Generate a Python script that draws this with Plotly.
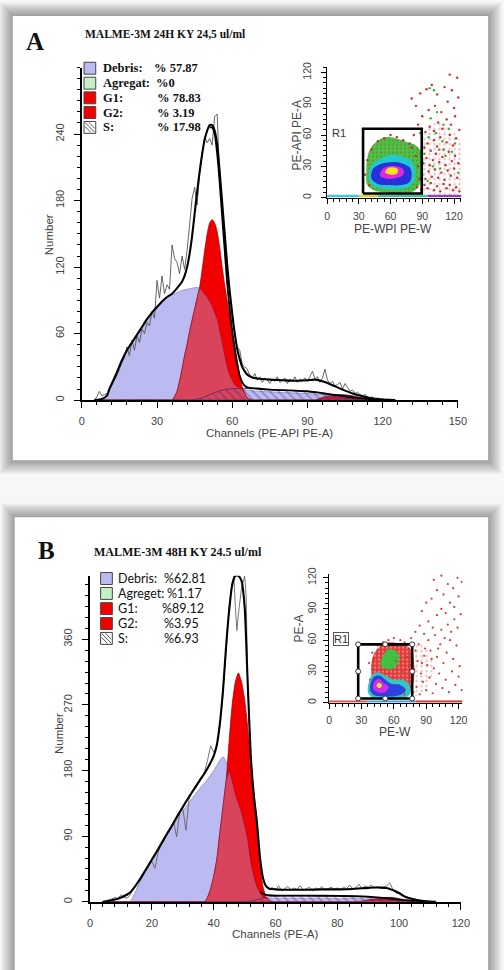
import plotly.graph_objects as go

W, H = 504, 970
def fx(x): return x / W
def fy(y): return 1 - y / H

# ---------------- Panel A : DNA histogram ----------------
A_ch = [5, 8, 10, 11, 12, 14, 16, 18, 20, 22, 24, 26, 28, 30, 32, 34, 36, 38, 40, 41,
        42, 43, 44, 45, 46, 47, 48, 49, 50, 51, 52, 53, 54, 55, 56, 57, 58, 59, 60, 61,
        62, 63, 64, 65, 66, 68, 70, 75, 80, 85, 90, 93, 96, 100, 104, 108, 112, 116, 120, 125]
A_debris = [0, 0.5, 4, 10, 15, 25, 36, 45, 52, 59, 66, 73, 79, 84, 89, 93, 95, 97, 99, 99.5,
            100, 100.5, 101, 101.5, 101.5, 101, 99, 96, 93, 89, 85, 79, 73, 63, 52, 41, 30, 23, 18, 14,
            12, 11, 10, 9.5, 9, 8.5, 8, 7.5, 7, 6.5, 6, 5.5, 5, 3.5, 2.5, 1.5, 0.8, 0.3, 0, 0]
A_G1 = [0, 0, 0, 0, 0, 0, 0, 0, 0, 0, 0, 0, 0, 0, 0, 0, 0, 8, 28, 40,
        50, 62, 72, 82, 92, 102, 118, 135, 150, 160, 163, 160, 152, 138, 120, 104, 90, 76, 62, 50,
        36, 22, 12, 6, 2, 0, 0, 0, 0, 0, 0, 0, 0, 0, 0, 0, 0, 0, 0, 0]
A_S = [0, 0, 0, 0, 0, 0, 0, 0, 0, 0, 0, 0, 0, 0, 0, 0, 0, 0, 0, 0,
       0, 0, 0, 0.5, 1, 1.5, 2, 3, 4, 5, 6, 7, 7.5, 8.5, 9, 9.5, 10, 10, 10.5, 10.5,
       10.5, 10.5, 10.5, 10.5, 10.5, 10.5, 10, 9.5, 9, 8.5, 8, 7.5, 6.5, 4.5, 2.5, 1, 0.3, 0, 0, 0]
A_G2 = [0, 0, 0, 0, 0, 0, 0, 0, 0, 0, 0, 0, 0, 0, 0, 0, 0, 0, 0, 0,
        0, 0, 0, 0, 0, 0, 0, 0, 0, 0, 0, 0, 0, 0, 0, 0, 0, 0, 0, 0,
        0, 0, 0, 0, 0, 0, 0, 0, 0, 0, 0, 0, 2.5, 4.5, 5, 4, 2, 0.4, 0, 0]
A_total = [0, 1, 4, 10, 15, 25, 36, 45, 52, 59, 66, 73, 79, 84, 89, 93, 96, 101, 107, 112,
           120, 132, 148, 168, 188, 206, 222, 235, 243, 248, 248, 243, 230, 206, 178, 150, 122, 98, 78, 60,
           46, 37, 30, 26, 23, 20.5, 19.5, 18.5, 18, 17.5, 18, 18.5, 17, 13.5, 9.5, 6, 3.5, 1.5, 0.5, 0]
A_inner_ch = [51, 52, 53, 54, 55, 56, 57, 58, 59, 60, 61, 62, 63, 64, 65, 66,
              70, 75, 80, 85, 90, 95, 100, 105, 110, 115, 120]
A_inner = [246, 246, 240, 222, 196, 165, 135, 105, 82, 62, 45, 32, 22, 16, 13, 11.5,
           10.5, 9.5, 9, 8.5, 8, 6.5, 5, 3.5, 2, 1, 0]
A_raw_ch = list(range(5, 126))
A_raw = [0, 3, 8, 4, 5, 6, 9, 14, 18, 22,
         28, 34, 38, 48, 40, 54, 45, 58, 52, 64,
         60, 70, 67, 80, 74, 108, 92, 112, 96, 104,
         100, 140, 128, 124, 114, 130, 118, 135, 158, 182,
         192, 176, 205, 222, 238, 232, 236, 230, 256, 258,
         200, 170, 150, 118, 96, 75, 60, 48, 45, 32,
         30, 28, 22, 20, 24, 18, 21, 16, 20, 18,
         15, 19, 17, 21, 16, 18, 20, 15, 19, 17,
         21, 16, 19, 18, 20, 17, 22, 26, 19, 21,
         16, 20, 28, 18, 15, 17, 13, 14, 16, 10,
         15, 11, 8, 9, 6, 7, 5, 4, 5, 3,
         2, 3, 1, 2, 1, 1, 0, 1, 0, 0, 0]
A_marker_ch = [98]

# ---------------- Panel B : DNA histogram ----------------
B_ch = [4, 6, 8, 10, 12, 13, 14, 15, 16, 18, 20, 22, 24, 26, 28, 30, 32, 34, 36, 37,
        38, 39, 40, 41, 42, 43, 44, 45, 46, 47, 48, 49, 50, 51, 52, 53, 54, 55, 56, 57,
        58, 60, 62, 65, 70, 75, 80, 85, 88, 90, 92, 94, 96, 98, 100, 102, 104, 106, 108, 110, 112]
B_debris = [0, 0, 0, 0, 0, 0, 8, 17, 27, 42, 58, 72, 86, 100, 112, 124, 136, 147, 158, 163,
            168, 174, 180, 187, 194, 199, 192, 180, 165, 148, 135, 122, 105, 85, 55, 35, 21, 12, 6, 5,
            5, 5, 5, 5, 5, 5, 4.5, 4.5, 4, 4, 3.5, 3, 2.5, 2, 1.5, 1, 0.5, 0.2, 0, 0, 0]
B_G1 = [0, 0, 0, 0, 0, 0, 0, 0, 0, 0, 0, 0, 0, 0, 0, 0, 0, 0, 0, 0,
        6, 18, 35, 58, 95, 130, 165, 222, 272, 302, 314, 302, 278, 240, 195, 150, 112, 48, 20, 6,
        1, 0, 0, 0, 0, 0, 0, 0, 0, 0, 0, 0, 0, 0, 0, 0, 0, 0, 0, 0, 0]
B_S = [0, 0, 0, 0, 0, 0, 0, 0, 0, 0, 0, 0, 0, 0, 0, 0, 0, 0, 0, 0,
       0, 0, 0, 0, 0, 0, 0, 0, 0, 0, 0, 0, 0, 0.5, 1, 2, 3, 4, 5, 6,
       7, 7.5, 8, 8, 8, 8, 7.5, 7.5, 7, 6.5, 5.5, 4.5, 3.5, 2.5, 1.5, 1, 0.5, 0.2, 0, 0, 0]
B_G2 = [0, 0, 0, 0, 0, 0, 0, 0, 0, 0, 0, 0, 0, 0, 0, 0, 0, 0, 0, 0,
        0, 0, 0, 0, 0, 0, 0, 0, 0, 0, 0, 0, 0, 0, 0, 0, 0, 0, 0, 0,
        0, 0, 0, 0, 0, 0, 0, 0, 1, 2.5, 4, 5, 6, 6, 4.5, 2.5, 1, 0.3, 0, 0, 0]
B_total = [0, 1, 3, 6, 10, 13, 18, 24, 30, 44, 58, 72, 87, 101, 116, 130, 144, 157, 170, 176,
           183, 191, 200, 215, 245, 290, 350, 400, 435, 447, 447, 440, 405, 300, 200, 145, 108, 60, 32, 21,
           18, 17, 16.5, 16.5, 16.5, 17, 17, 17.5, 18.5, 19, 19.5, 19.5, 19, 16, 12, 7, 4, 2, 1, 0.3, 0]
B_inner_ch = [55, 56, 57, 58, 60, 65, 70, 80, 88, 92, 96, 100, 104, 108]
B_inner = [14, 11, 9.5, 9, 8.5, 8.5, 8.5, 8, 7.5, 6.5, 5, 3, 1.5, 0]
B_raw_ch = list(range(4, 47)) + [46.5, 47, 47.5, 48, 49, 50, 50.5] + list(range(51, 111))
B_raw = [0, 1, 2, 4, 6, 4, 10, 6, 5, 10,
         18, 24, 30, 38, 44, 52, 55, 46, 68, 78,
         85, 96, 100, 110, 89, 124, 128, 98, 140, 150,
         155, 162, 168, 178, 194, 214, 205, 212, 240, 285,
         345, 405, 438,
         447, 405, 372, 395, 430, 447, 420,
         300, 195, 145, 100, 55, 30, 22, 17, 20, 16,
         22, 15, 18, 21, 16, 19, 17, 22, 16, 18,
         20, 15, 19, 17, 21, 16, 18, 20, 17, 19,
         16, 20, 18, 23, 18, 19, 24, 18, 22, 20,
         23, 19, 21, 18, 20, 22, 26, 17, 12, 11,
         8, 7, 5, 4, 3, 2, 2, 1, 1, 0]

# ---------------- Insets : PE-W vs PE-A dot plots ----------------
A_green_x = [38, 37, 38, 41, 46, 52, 60, 68, 76, 84, 89, 90, 88, 82, 70, 55, 44, 38]
A_green_y = [12, 25, 38, 47, 53, 57, 58, 56, 53, 50, 44, 30, 14, 6, 5, 5, 7, 12]
A_cyan_x = [40, 40, 44, 52, 62, 72, 80, 83, 82, 76, 64, 50, 43, 40]
A_cyan_y = [16, 26, 33, 38, 41, 39, 35, 26, 16, 10, 8, 9, 12, 16]
A_blue_x = [42, 43, 50, 60, 70, 78, 80, 78, 70, 58, 48, 42]
A_blue_y = [18, 27, 32, 34, 33, 29, 22, 15, 12, 12, 13, 18]
A_mag_x = [50, 52, 58, 66, 72, 72, 66, 58, 50]
A_mag_y = [21, 27, 30, 30, 27, 22, 19, 18, 21]
A_yel_x = [55, 57, 63, 67, 66, 60, 55]
A_yel_y = [24, 28, 29, 27, 23, 22, 24]
A_zone_x = [89, 90, 95, 102, 110, 118, 126, 126, 118, 105, 95, 89]
A_zone_y = [5, 50, 68, 72, 70, 64, 55, 5, 3, 3, 4, 5]
A_red_x = [89, 92, 95, 98, 101, 104, 107, 110, 113, 116, 119, 122, 125,
           90, 93, 96, 99, 102, 105, 108, 111, 114, 117, 120, 123,
           91, 94, 97, 100, 103, 106, 109, 112, 115, 118, 121, 124,
           92, 95, 98, 101, 104, 107, 110, 113, 116, 119, 122,
           93, 97, 101, 105, 109, 113, 117, 121, 125,
           90, 96, 102, 108, 114, 120, 124,
           88, 94, 99, 104, 111, 118, 123, 116, 84, 80, 86, 82,
           80, 84, 86, 87, 85, 78, 72, 66, 60, 54, 48, 42, 38, 36, 40]
A_red_y = [8, 12, 9, 14, 7, 11, 6, 13, 9, 12, 7, 10, 6,
           22, 18, 25, 20, 27, 19, 24, 17, 26, 21, 28, 19,
           33, 38, 31, 36, 42, 34, 39, 31, 44, 35, 40, 33,
           48, 52, 45, 55, 49, 58, 46, 53, 60, 50, 57,
           63, 68, 64, 72, 66, 75, 70, 78, 65,
           78, 84, 88, 82, 92, 86, 96,
           100, 104, 108, 99, 106, 103, 115, 118, 88, 95, 70, 60,
           48, 40, 30, 18, 10, 52, 55, 58, 60, 57, 54, 46, 36, 22, 12]
A_grn_x = [92, 96, 100, 103, 106, 109, 112, 115, 118, 121, 124, 98, 104, 110, 97, 101, 88, 90, 95, 107]
A_grn_y = [42, 58, 30, 62, 46, 54, 40, 66, 44, 52, 24, 76, 82, 70, 105, 103, 62, 36, 16, 28]
A_strip_x = [[0, 30], [30, 48], [48, 95], [95, 127]]
A_strip_c = ['#40c8e0', '#e0d030', '#40c0a0', '#9040c0']
A_gate_x = [34, 89.5, 89.5, 34, 34]
A_gate_y = [4, 4, 66, 66, 4]

B_red_x = [40, 39, 42, 48, 56, 64, 72, 77, 79, 78, 74, 66, 52, 42, 40]
B_red_y = [20, 36, 48, 55, 58, 57, 55, 48, 35, 18, 8, 5, 6, 12, 20]
B_green_x = [48, 50, 55, 61, 65, 63, 57, 51, 48]
B_green_y = [36, 45, 51, 50, 44, 36, 32, 33, 36]
B_cyan_x = [36, 37, 40, 46, 52, 60, 68, 74, 75, 68, 52, 40, 36]
B_cyan_y = [10, 20, 27, 29, 26, 22, 22, 18, 8, 4, 3, 5, 10]
B_blue_x = [38, 39, 42, 47, 52, 58, 66, 71, 65, 50, 42, 38]
B_blue_y = [12, 20, 25, 26, 22, 18, 17, 12, 7, 6, 7, 12]
B_mag_x = [41, 42, 46, 50, 55, 52, 45, 41]
B_mag_y = [13, 20, 23, 19, 15, 10, 10, 13]
B_yel_x = [44, 46, 49, 47, 44]
B_yel_y = [16, 19, 17, 14, 16]
B_zone_x = [77, 78, 82, 88, 94, 96, 92, 86, 80, 77]
B_zone_y = [8, 45, 56, 54, 46, 30, 16, 10, 6, 8]
B_dot_x = [78, 81, 84, 87, 90, 93, 96, 99, 102, 105, 108, 111, 114, 117, 120, 123,
           79, 82, 85, 88, 91, 94, 97, 100, 103, 106, 109, 112, 115, 118, 121, 124,
           80, 83, 86, 89, 92, 95, 98, 101, 104, 107, 110, 113, 116, 119, 122,
           76, 80, 84, 88, 92, 96, 100, 104, 108, 112, 116, 120, 124,
           86, 90, 95, 100, 106, 110, 115, 119, 123, 97, 104,
           66, 70, 74, 60, 55, 50, 45, 40, 37, 72, 75, 74, 76, 70, 62, 45, 38, 42, 68]
B_dot_y = [10, 15, 8, 20, 12, 24, 9, 18, 28, 14, 22, 10, 30, 17, 25, 12,
           32, 40, 28, 45, 36, 50, 33, 44, 56, 38, 48, 60, 42, 55, 35, 62,
           50, 56, 38, 52, 60, 42, 65, 52, 70, 62, 75, 68, 80, 72, 85,
           62, 68, 74, 66, 78, 72, 84, 90, 86, 96, 92, 102, 98,
           88, 96, 100, 108, 104, 114, 110, 120, 116, 118, 122,
           60, 58, 52, 62, 60, 58, 55, 48, 38, 44, 36, 25, 15, 8, 40, 32, 22, 42, 30]
B_strip_x = [[0, 35], [35, 80], [80, 124]]
B_strip_c = ['#e05050', '#40a0e0', '#d03030']
B_gate_x = [27, 77, 77, 27, 27]
B_gate_y = [4, 4, 56, 56, 4]
B_handle_x = [27, 52, 77, 77, 77, 52, 27, 27]
B_handle_y = [4, 4, 4, 30, 56, 56, 56, 30]

# ---------------- Texts ----------------
A_title = "MALME-3M 24H KY 24,5 ul/ml"
B_title = "MALME-3M 48H KY 24.5 ul/ml"
A_leg_labels = ["Debris:", "Agregat:", "G1:", "G2:", "S:"]
A_leg_values = ["% 57.87", "%0", "% 78.83", "% 3.19", "% 17.98"]
B_leg_labels = ["Debris:", "Agreget:", "G1:", "G2:", "S:"]
B_leg_values = ["%62.81", "%1.17", "%89.12", "%3.95", "%6.93"]

LAV = '#bbbbf2'
RED = '#f20000'
CRIM = '#d9435c'
G2C = '#b8203c'

fig = go.Figure()

def area(x, y, xa, ya, fill, line, lw=0.8):
    fig.add_trace(go.Scatter(x=x, y=y, xaxis=xa, yaxis=ya, mode='lines', fill='tozeroy',
                             fillcolor=fill, line=dict(color=line, width=lw, shape='spline', smoothing=0.5),
                             hoverinfo='skip', showlegend=False))

def hatch(x, y, xa, ya):
    fig.add_trace(go.Scatter(x=x, y=y, xaxis=xa, yaxis=ya, mode='lines', fill='tozeroy',
                             fillcolor='rgba(0,0,0,0)',
                             fillpattern=dict(shape='\\', fgcolor='rgba(55,40,120,0.85)',
                                              bgcolor='rgba(0,0,0,0)', size=6, solidity=0.24),
                             line=dict(color='#5a2a6a', width=0.9, shape='spline', smoothing=0.5),
                             hoverinfo='skip', showlegend=False))

def line(x, y, xa, ya, color, lw, shape='spline'):
    fig.add_trace(go.Scatter(x=x, y=y, xaxis=xa, yaxis=ya, mode='lines',
                             line=dict(color=color, width=lw, shape=shape, smoothing=0.6),
                             hoverinfo='skip', showlegend=False))

def poly(x, y, xa, ya, color, pattern=None):
    kw = {}
    if pattern:
        kw['fillpattern'] = pattern
    fig.add_trace(go.Scatter(x=x, y=y, xaxis=xa, yaxis=ya, mode='lines', fill='toself',
                             fillcolor=color, line=dict(width=0, shape='spline', smoothing=1.0),
                             hoverinfo='skip', showlegend=False, **kw))

def dots(x, y, xa, ya, color, size=2.6):
    fig.add_trace(go.Scatter(x=x, y=y, xaxis=xa, yaxis=ya, mode='markers',
                             marker=dict(color=color, size=size, line=dict(width=0)),
                             hoverinfo='skip', showlegend=False))

# ---- Panel A histogram
area(A_ch, A_debris, 'x', 'y', LAV, '#7070b0', 0.6)
area(A_ch, A_G1, 'x', 'y', RED, '#9a0000', 0.7)
A_ov = [min(a, b) for a, b in zip(A_debris, A_G1)]
area(A_ch, A_ov, 'x', 'y', CRIM, '#8a1030', 0.6)
area(A_ch, A_G2, 'x', 'y', G2C, '#700010', 0.6)
hatch(A_ch, A_S, 'x', 'y')
line(A_raw_ch, A_raw, 'x', 'y', '#555555', 0.9, 'linear')
line(A_inner_ch, A_inner, 'x', 'y', 'black', 1.8)
line(A_ch, A_total, 'x', 'y', 'black', 2.1)
fig.add_trace(go.Scatter(x=A_marker_ch, y=[-4.6], xaxis='x', yaxis='y', mode='markers',
                         marker=dict(symbol='triangle-up', size=11, color='black'),
                         cliponaxis=False, hoverinfo='skip', showlegend=False))

# ---- Panel B histogram
area(B_ch, B_debris, 'x3', 'y3', LAV, '#7070b0', 0.6)
area(B_ch, B_G1, 'x3', 'y3', RED, '#9a0000', 0.7)
B_ov = [min(a, b) for a, b in zip(B_debris, B_G1)]
area(B_ch, B_ov, 'x3', 'y3', CRIM, '#8a1030', 0.6)
area(B_ch, B_G2, 'x3', 'y3', G2C, '#700010', 0.6)
hatch(B_ch, B_S, 'x3', 'y3')
line(B_raw_ch, B_raw, 'x3', 'y3', '#666666', 0.9, 'linear')
line(B_inner_ch, B_inner, 'x3', 'y3', 'black', 1.8)
line(B_ch, B_total, 'x3', 'y3', 'black', 2.1)

# ---- Inset A
speck = dict(shape='.', fgcolor='rgba(200,70,70,0.75)', bgcolor='rgba(0,0,0,0)', size=5, solidity=0.18)
poly(A_zone_x, A_zone_y, 'x2', 'y2', 'rgba(0,0,0,0)', speck)
poly(A_green_x, A_green_y, 'x2', 'y2', '#3cc43c',
     dict(shape='.', fgcolor='rgba(170,60,60,0.8)', bgcolor='#44c844', size=4, solidity=0.3))
poly(A_cyan_x, A_cyan_y, 'x2', 'y2', '#22c8d0')
poly(A_blue_x, A_blue_y, 'x2', 'y2', '#2830d8')
poly(A_mag_x, A_mag_y, 'x2', 'y2', '#e028e0')
poly(A_yel_x, A_yel_y, 'x2', 'y2', '#ffe020')
dots(A_red_x, A_red_y, 'x2', 'y2', '#c83030', 2.4)
dots(A_grn_x, A_grn_y, 'x2', 'y2', '#30b030', 2.4)
for seg, c in zip(A_strip_x, A_strip_c):
    fig.add_trace(go.Scatter(x=seg, y=[1.5, 1.5], xaxis='x2', yaxis='y2', mode='lines',
                             line=dict(color=c, width=2.5), hoverinfo='skip', showlegend=False))
fig.add_trace(go.Scatter(x=A_gate_x, y=A_gate_y, xaxis='x2', yaxis='y2', mode='lines',
                         line=dict(color='black', width=2.6), hoverinfo='skip', showlegend=False))

# ---- Inset B
poly(B_zone_x, B_zone_y, 'x4', 'y4', 'rgba(0,0,0,0)', speck)
poly(B_red_x, B_red_y, 'x4', 'y4', '#e03838',
     dict(shape='.', fgcolor='rgba(255,255,255,0.7)', bgcolor='#e03838', size=4, solidity=0.3))
poly(B_green_x, B_green_y, 'x4', 'y4', '#40c040')
poly(B_cyan_x, B_cyan_y, 'x4', 'y4', '#30c8c0')
poly(B_blue_x, B_blue_y, 'x4', 'y4', '#3040e0')
poly(B_mag_x, B_mag_y, 'x4', 'y4', '#d030e0')
poly(B_yel_x, B_yel_y, 'x4', 'y4', '#f0e040')
dots(B_dot_x, B_dot_y, 'x4', 'y4', '#d83838', 2.2)
for seg, c in zip(B_strip_x, B_strip_c):
    fig.add_trace(go.Scatter(x=seg, y=[1.2, 1.2], xaxis='x4', yaxis='y4', mode='lines',
                             line=dict(color=c, width=2), hoverinfo='skip', showlegend=False))
fig.add_trace(go.Scatter(x=B_gate_x, y=B_gate_y, xaxis='x4', yaxis='y4', mode='lines',
                         line=dict(color='black', width=2.6), hoverinfo='skip', showlegend=False))
fig.add_trace(go.Scatter(x=B_handle_x, y=B_handle_y, xaxis='x4', yaxis='y4', mode='markers',
                         marker=dict(color='white', size=5, line=dict(color='#333', width=1)),
                         cliponaxis=False, hoverinfo='skip', showlegend=False))

# ---------------- Axes ----------------
TF = 'Liberation Sans, Arial, sans-serif'
def ax(domain, rng, tickvals, minor_dt, anchor, size=11, ticklen=6, standoff=4, angle=0, lw=1.5):
    return dict(domain=domain, range=rng, tickmode='array', tickvals=tickvals, anchor=anchor,
                ticks='outside', ticklen=ticklen, tickwidth=1.2, tickcolor='black',
                showline=True, linecolor='black', linewidth=lw, showgrid=False, zeroline=False,
                tickangle=angle, ticklabelstandoff=standoff,
                tickfont=dict(family=TF, size=size, color='#444'),
                minor=dict(tickmode='linear', tick0=0, dtick=minor_dt, ticks='outside',
                           ticklen=ticklen * 0.55, tickcolor='black', tickwidth=1),
                fixedrange=True)

layout_axes = dict(
    xaxis=ax([fx(80.7), fx(466)], [0, 150], [0, 30, 60, 90, 120, 150], 6, 'y', standoff=4),
    yaxis=ax([fy(397), fy(62)], [0, 300], [0, 60, 120, 180, 240], 10, 'x', standoff=6, angle=-90),
    xaxis2=ax([fx(332), fx(469.6)], [0, 127], [0, 30, 60, 90, 120], 6, 'y2', size=10.5, ticklen=5, standoff=4, lw=1.3),
    yaxis2=ax([fy(193), fy(61)], [0, 125.7], [0, 30, 60, 90, 120], 5, 'x2', size=10.5, ticklen=5, standoff=6, angle=-90, lw=1.3),
    xaxis3=ax([fx(89.3), fx(469)], [0, 120], [0, 20, 40, 60, 80, 100, 120], 4, 'y3', standoff=4),
    yaxis3=ax([fy(902.3), fy(574)], [0, 447], [0, 90, 180, 270, 360], 15, 'x3', standoff=6, angle=-90),
    xaxis4=ax([fx(334), fx(470.7)], [0, 123.6], [0, 30, 60, 90, 120], 6, 'y4', size=10.5, ticklen=5, standoff=3, lw=1.3),
    yaxis4=ax([fy(701.7), fy(571.7)], [0, 124], [0, 30, 60, 90, 120], 5, 'x4', size=10.5, ticklen=5, standoff=3, angle=-90, lw=1.3),
)

# ---------------- Cards (background shadows) ----------------
shapes = []
def card(x0, y0, x1, y1):
    for k in range(14, 0, -1):
        shapes.append(dict(type='rect', xref='paper', yref='paper', layer='below',
                           x0=fx(x0 - k), x1=fx(x1 + k), y0=fy(y1 + k), y1=fy(y0 - k),
                           line=dict(width=0), fillcolor='rgba(0,0,0,0.028)'))
    shapes.append(dict(type='rect', xref='paper', yref='paper', layer='below',
                       x0=fx(x0), x1=fx(x1), y0=fy(y1), y1=fy(y0),
                       line=dict(width=0), fillcolor='white'))
card(10, 10, 497, 457.5)
card(12, 515, 497, 990)

# ---------------- Legends ----------------
annotations = []
swatchA = [LAV, '#c6f0c6', RED, RED, 'white']
swatchB = [LAV, '#c6f0c6', RED, RED, 'white']

def legend(labels, values, swatches, sx, rows, tx, vx, size, family, bold, sq=12):
    for i, (lab, val, col) in enumerate(zip(labels, values, swatches)):
        yc = rows[i]
        shapes.append(dict(type='rect', xref='paper', yref='paper', layer='above',
                           x0=fx(sx), x1=fx(sx + sq), y0=fy(yc + sq / 2), y1=fy(yc - sq / 2),
                           fillcolor=col, line=dict(color='#444', width=1)))
        if i == 4:
            for d in (-4, 0, 4):
                shapes.append(dict(type='line', xref='paper', yref='paper', layer='above',
                                   x0=fx(sx + max(0, d) + 1), x1=fx(sx + sq - 1 + min(0, d)),
                                   y0=fy(yc - sq / 2 + 1 - min(0, d)), y1=fy(yc + sq / 2 - 1 - max(0, d)),
                                   line=dict(color='#444', width=0.9)))
        t1 = f"<b>{lab}</b>" if bold else lab
        t2 = f"<b>{val}</b>" if bold else val
        annotations.append(dict(x=fx(tx), y=fy(yc), xref='paper', yref='paper', text=t1,
                                showarrow=False, xanchor='left', yanchor='middle',
                                font=dict(family=family, size=size, color='#111')))
        annotations.append(dict(x=fx(vx[i]), y=fy(yc), xref='paper', yref='paper', text=t2,
                                showarrow=False, xanchor='left', yanchor='middle',
                                font=dict(family=family, size=size, color='#111')))

legend(A_leg_labels, A_leg_values, swatchA, 83, [62.7, 77.7, 92.5, 107.3, 122.3], 100.5,
       [152.5, 155, 156, 156, 156], 12.5, 'Liberation Serif, Times New Roman, serif', True)
legend(B_leg_labels, B_leg_values, swatchB, 100, [576.7, 591.7, 607, 622, 637], 115.5,
       [163, 165.5, 161, 163, 162.5], 12.5, 'Lato, Carlito, sans-serif', False)

def txt(x, y, s, size, family, color='#111', angle=0, xanchor='center', **kw):
    annotations.append(dict(x=fx(x), y=fy(y), xref='paper', yref='paper', text=s, showarrow=False,
                            xanchor=xanchor, yanchor='middle', textangle=angle,
                            font=dict(family=family, size=size, color=color), **kw))

SERIF = 'Liberation Serif, Times New Roman, serif'
txt(22, 36, '<b>A</b>', 25, SERIF, xanchor='left')
txt(81.5, 28.5, f'<b>{A_title}</b>', 11.5, SERIF, xanchor='left')
txt(34, 548.5, '<b>B</b>', 25, SERIF, xanchor='left')
txt(91.5, 550, f'<b>{B_title}</b>', 12, SERIF, xanchor='left')

txt(47, 230, 'Number', 11.5, TF, '#444', -90)
txt(273.3, 430, 'Channels (PE-API PE-A)', 11.5, TF, '#444')
txt(56.7, 733, 'Number', 11.5, TF, '#444', -90)
txt(278.3, 935, 'Channels (PE-A)', 11.5, TF, '#444')
txt(400, 224.5, 'PE-WPI PE-W', 12, TF, '#444')
txt(301.7, 130, 'PE-API PE-A', 12, TF, '#444', -90)
txt(401.7, 731, 'PE-W', 12, TF, '#444')
txt(303.5, 626.7, 'PE-A', 12, TF, '#444', -90)

annotations.append(dict(x=2.5, y=62, xref='x2', yref='y2', text='R1', showarrow=False,
                        xanchor='left', yanchor='middle', font=dict(family=TF, size=11, color='#333')))
annotations.append(dict(x=3.5, y=61.5, xref='x4', yref='y4', text='R1', showarrow=False,
                        xanchor='left', yanchor='middle', bordercolor='#555', borderwidth=1, borderpad=0,
                        bgcolor='white', font=dict(family=TF, size=11, color='#333')))

fig.update_layout(
    width=W, height=H, margin=dict(l=0, r=0, t=0, b=0),
    paper_bgcolor='#f7f7f7', plot_bgcolor='rgba(0,0,0,0)',
    showlegend=False, shapes=shapes, annotations=annotations,
    **layout_axes
)

fig.write_html("out.html")
